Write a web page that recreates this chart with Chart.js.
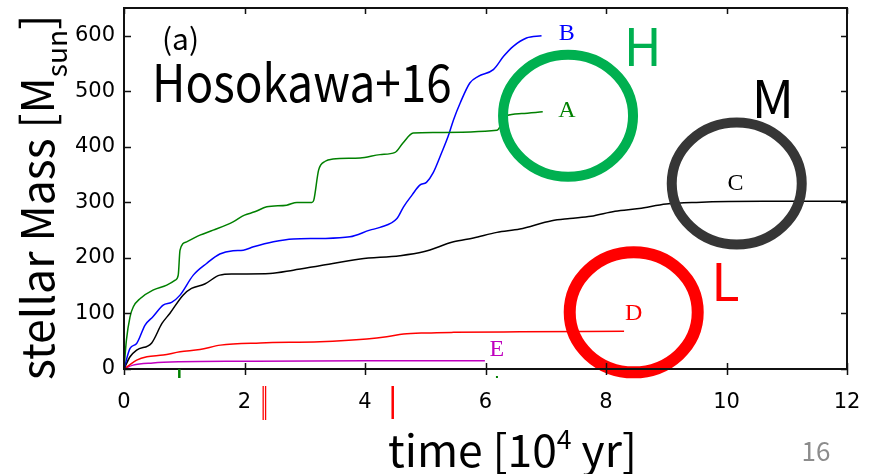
<!DOCTYPE html>
<html>
<head>
<meta charset="utf-8">
<script src="https://cdn.jsdelivr.net/npm/chart.js@4/dist/chart.umd.min.js"></script>
<style>
html, body { margin: 0; padding: 0; background: #fff; }
canvas { display: block; }
</style>
</head>
<body>
<canvas id="massChart" width="871" height="474"></canvas>
<script>
// stellar mass growth of five protostars (time in 10^4 yr, mass in Msun)
var timeA = [0, 0.04, 0.1, 0.155, 0.27, 0.48, 0.71, 0.85, 0.9, 0.93, 1.04, 1.26, 1.48, 1.81, 2.0, 2.17, 2.37, 2.7, 2.87, 3.12, 3.15, 3.23, 3.34, 3.47, 3.92, 4.25, 4.5, 4.63, 4.8, 5.13, 6.19, 6.35, 6.6, 6.95];
var massA = [0, 52, 94, 112, 127, 142, 151, 160, 169, 214, 229, 241, 250, 265, 277, 283, 292, 295, 300, 300, 304, 358, 374, 378, 380, 386, 390, 407, 425, 426, 430, 456, 460, 463];

var timeB = [0, 0.1, 0.21, 0.35, 0.48, 0.65, 0.79, 0.93, 1.15, 1.37, 1.59, 1.81, 1.98, 2.15, 2.48, 2.81, 3.25, 3.75, 4.08, 4.25, 4.53, 4.64, 4.78, 4.91, 5.02, 5.13, 5.27, 5.38, 5.47, 5.58, 5.74, 5.88, 6.13, 6.3, 6.46, 6.68, 6.93];
var massB = [0, 37, 46, 79, 94, 115, 120, 133, 169, 190, 207, 213, 214, 220, 229, 234, 235, 238, 250, 255, 271, 292, 313, 331, 336, 353, 389, 419, 449, 479, 515, 527, 539, 563, 581, 596, 600];

var timeC = [0, 0.1, 0.21, 0.46, 0.63, 0.76, 0.98, 1.12, 1.34, 1.59, 1.81, 2.42, 2.81, 3.25, 3.92, 4.58, 4.97, 5.47, 5.8, 6.19, 6.57, 7.1, 7.4, 7.75, 8.15, 8.55, 9.0, 9.5, 10.6, 12];
var massC = [0, 22, 34, 47, 82, 100, 133, 145, 153, 169, 171, 172, 178, 186, 198, 204, 211, 229, 236, 246, 252, 267, 271, 275, 284, 289, 297, 300, 302, 302];

var timeD = [0, 0.1, 0.21, 0.38, 0.65, 0.93, 1.26, 1.6, 2.26, 3.25, 4.03, 4.36, 4.64, 5.02, 5.47, 6.57, 8.3];
var massD = [0, 8, 16, 22, 25, 31, 35, 43, 47, 49, 54, 58, 63, 65, 66, 67, 68];

var timeE = [0, 0.15, 0.48, 0.93, 2.0, 4.0, 5.99];
var massE = [0, 7, 11, 13, 14, 15, 15];

var curveNames = ['A', 'B', 'C', 'D', 'E'];
var curveColors = ['#008000', '#0000ff', '#000000', '#ff0000', '#bf00bf'];

var xTicks = [0, 2, 4, 6, 8, 10, 12];
var yTicks = [0, 100, 200, 300, 400, 500, 600];

// where each curve's letter sits (data units)
var labelTime = [7.35, 7.35, 10.15, 8.46, 6.19];
var labelMass = [465, 604, 333, 99, 34];

// highlight rings around the three groups: H, M, L
var ringNames = ['H', 'M', 'L'];
var ringColors = ['#00b050', '#363636', '#ff0000'];
var ringTime = [7.37, 10.17, 8.46];
var ringMass = [456, 334, 102];
var ringLetterTime = [8.61, 10.77, 9.98];
var ringLetterMass = [582, 488, 158];

// small markers under the time axis
var greenMarks = [0.918];
var redDoubleMarks = [2.31, 2.35];
var redMarks = [4.46];

function pairs(t, m) {
  return t.map(function (v, i) { return { x: v, y: m[i] }; });
}

var series = [[timeA, massA], [timeB, massB], [timeC, massC], [timeD, massD], [timeE, massE]];
var datasets = series.map(function (s, i) {
  return {
    label: curveNames[i],
    data: pairs(s[0], s[1]),
    borderColor: curveColors[i],
    borderWidth: 1.5,
    pointRadius: 0,
    fill: false,
    cubicInterpolationMode: 'monotone'
  };
});

var TITLE_FONT = '"Noto Sans CJK JP", "Noto Sans", sans-serif';

function richWidth(ctx, parts, size, family) {
  var w = 0;
  parts.forEach(function (p) {
    ctx.font = Math.round(size * p.s * 10) / 10 + 'px ' + family;
    w += ctx.measureText(p.t).width;
  });
  return w;
}

// draws text made of pieces with sub/superscripts, starting at x
function drawRich(ctx, parts, size, family, x, y) {
  parts.forEach(function (p) {
    ctx.font = Math.round(size * p.s * 10) / 10 + 'px ' + family;
    ctx.fillText(p.t, x, y + p.dy * size);
    x += ctx.measureText(p.t).width;
  });
}

function fitSize(ctx, parts, family, target) {
  return 100 * target / richWidth(ctx, parts, 100, family);
}

var decorations = {
  id: 'decorations',
  afterDatasetsDraw: function (chart) {
    var ctx = chart.ctx, xs = chart.scales.x, ys = chart.scales.y;
    ctx.save();
    // rings
    ringNames.forEach(function (n, i) {
      ctx.beginPath();
      var w = i === 2 ? 12 : 10;
      ctx.lineWidth = w;
      ctx.strokeStyle = ringColors[i];
      ctx.ellipse(xs.getPixelForValue(ringTime[i]), ys.getPixelForValue(ringMass[i]), 70 - w / 2, 66 - w / 2, 0, 0, Math.PI * 2);
      ctx.stroke();
      ctx.fillStyle = ringColors[i] === '#363636' ? '#000' : ringColors[i];
      ctx.font = '52px ' + TITLE_FONT;
      ctx.textAlign = 'center';
      ctx.textBaseline = 'middle';
      ctx.fillText(n, xs.getPixelForValue(ringLetterTime[i]), ys.getPixelForValue(ringLetterMass[i]));
    });
    // curve letters
    ctx.font = '24px "Liberation Serif", "DejaVu Serif", serif';
    curveNames.forEach(function (n, i) {
      ctx.fillStyle = curveColors[i];
      ctx.fillText(n, xs.getPixelForValue(labelTime[i]), ys.getPixelForValue(labelMass[i]));
    });
    ctx.restore();
  },
  afterDraw: function (chart) {
    var ctx = chart.ctx, a = chart.chartArea, xs = chart.scales.x, ys = chart.scales.y;
    ctx.save();
    // frame
    ctx.strokeStyle = '#111';
    ctx.lineWidth = 2;
    ctx.strokeRect(a.left, a.top, a.right - a.left, a.bottom - a.top);
    // tick marks
    ctx.lineWidth = 1.5;
    ctx.beginPath();
    xTicks.forEach(function (v) {
      var px = Math.round(xs.getPixelForValue(v)) + 0.5;
      ctx.moveTo(px, a.bottom - 6); ctx.lineTo(px, a.bottom + 6);
      ctx.moveTo(px, a.top); ctx.lineTo(px, a.top + 6);
    });
    yTicks.forEach(function (v) {
      var py = Math.round(ys.getPixelForValue(v)) + 0.5;
      ctx.moveTo(a.left, py); ctx.lineTo(a.left + 7, py);
      ctx.moveTo(a.right, py); ctx.lineTo(a.right - 6, py);
    });
    ctx.stroke();

    // markers below the axis
    ctx.strokeStyle = '#008000';
    ctx.lineWidth = 2.5;
    greenMarks.forEach(function (v) {
      var px = xs.getPixelForValue(v);
      ctx.beginPath(); ctx.moveTo(px, a.bottom); ctx.lineTo(px, a.bottom + 9); ctx.stroke();
    });
    ctx.fillStyle = '#008000';
    ctx.fillRect(xs.getPixelForValue(6.19) - 1, a.bottom + 7, 2, 2);
    ctx.strokeStyle = '#ff0000';
    ctx.lineWidth = 1.3;
    redDoubleMarks.forEach(function (v) {
      var px = xs.getPixelForValue(v);
      ctx.beginPath(); ctx.moveTo(px, a.bottom + 17); ctx.lineTo(px, a.bottom + 51); ctx.stroke();
    });
    ctx.lineWidth = 2.5;
    redMarks.forEach(function (v) {
      var px = xs.getPixelForValue(v);
      ctx.beginPath(); ctx.moveTo(px, a.bottom + 17); ctx.lineTo(px, a.bottom + 50); ctx.stroke();
    });

    // panel tags
    ctx.fillStyle = '#000';
    ctx.textAlign = 'left';
    ctx.textBaseline = 'alphabetic';
    var tag = [{ t: '(a)', s: 1, dy: 0 }];
    drawRich(ctx, tag, fitSize(ctx, tag, TITLE_FONT, 37), TITLE_FONT, 162, 50);
    var ref = [{ t: 'Hosokawa+16', s: 1, dy: 0 }];
    ctx.save();
    ctx.translate(152, 102);
    ctx.scale(1, 1.12);
    drawRich(ctx, ref, fitSize(ctx, ref, TITLE_FONT, 300), TITLE_FONT, 0, 0);
    ctx.restore();

    // x title
    var xt = [{ t: 'time [10', s: 1, dy: 0 }, { t: '4', s: 0.6, dy: -0.4 }, { t: ' yr]', s: 1, dy: 0 }];
    drawRich(ctx, xt, fitSize(ctx, xt, TITLE_FONT, 249), TITLE_FONT, 388, 467);

    // y title, rotated
    var yt = [{ t: 'stellar Mass [M', s: 1, dy: 0 }, { t: 'sun', s: 0.63, dy: 0.29 }, { t: ']', s: 1, dy: 0 }];
    var ySize = fitSize(ctx, yt, TITLE_FONT, 365);
    ctx.translate(54, 380);
    ctx.rotate(-Math.PI / 2);
    drawRich(ctx, yt, ySize, TITLE_FONT, 0, 0);
    ctx.setTransform(1, 0, 0, 1, 0, 0);

    // slide number
    ctx.fillStyle = '#8c8c8c';
    ctx.font = '26px ' + TITLE_FONT;
    ctx.textAlign = 'center';
    ctx.fillText('16', 816, 461);
    ctx.restore();
  }
};

var tickFont = { family: 'DejaVu Sans', size: 21 };

new Chart(document.getElementById('massChart').getContext('2d'), {
  type: 'line',
  data: { datasets: datasets },
  options: {
    responsive: false,
    animation: false,
    layout: { padding: { top: 8, right: 24, left: 0, bottom: 0 } },
    plugins: { legend: { display: false }, tooltip: { enabled: false } },
    scales: {
      x: {
        type: 'linear', min: 0, max: 12,
        afterBuildTicks: function (s) { s.ticks = xTicks.map(function (v) { return { value: v }; }); },
        afterFit: function (s) { s.height = 105; s.paddingLeft = 0; s.paddingRight = 0; },
        grid: { display: false, drawTicks: false },
        border: { display: false },
        ticks: { color: '#000', font: tickFont, padding: 21, maxRotation: 0 }
      },
      y: {
        type: 'linear', min: 0, max: 650,
        afterBuildTicks: function (s) { s.ticks = yTicks.map(function (v) { return { value: v }; }); },
        afterFit: function (s) { s.width = 124; s.paddingTop = 0; s.paddingBottom = 0; },
        grid: { display: false, drawTicks: false },
        border: { display: false },
        ticks: { color: '#000', font: tickFont, padding: 9 }
      }
    }
  },
  plugins: [decorations]
});
</script>
</body>
</html>
